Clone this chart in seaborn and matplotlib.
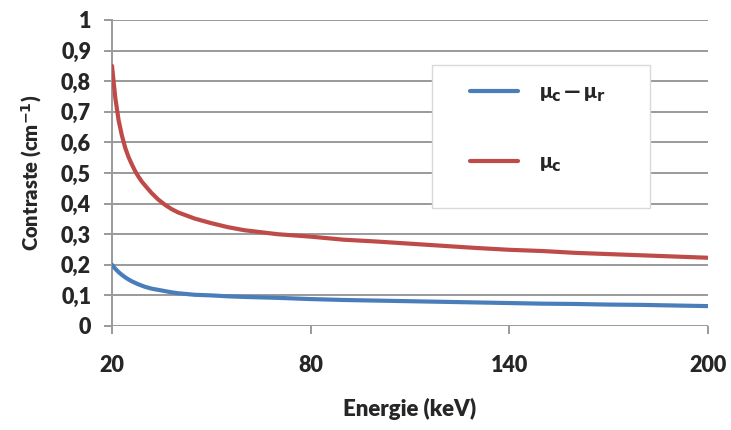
import numpy as np
import pandas as pd
import matplotlib
matplotlib.use("Agg")
import matplotlib.pyplot as plt
from matplotlib.patches import Rectangle
from matplotlib.ticker import FuncFormatter
import seaborn as sns

# ---- data ----
energie = [20, 21, 22, 23, 24, 25, 26, 27, 28, 29, 30, 32, 34, 36, 38, 40, 45,
           50, 55, 60, 70, 80, 90, 100, 110, 120, 130, 140, 150, 160, 170, 180,
           190, 200]
mu_c = [0.85, 0.745, 0.672, 0.622, 0.582, 0.552, 0.528, 0.506, 0.488, 0.472,
        0.459, 0.434, 0.413, 0.396, 0.382, 0.371, 0.351, 0.336, 0.323, 0.313,
        0.300, 0.292, 0.282, 0.276, 0.269, 0.262, 0.255, 0.249, 0.245, 0.239,
        0.235, 0.231, 0.227, 0.223]
mu_diff = [0.20, 0.187, 0.176, 0.167, 0.159, 0.152, 0.146, 0.141, 0.136, 0.132,
           0.128, 0.122, 0.118, 0.114, 0.110, 0.107, 0.102, 0.100, 0.097, 0.095,
           0.092, 0.088, 0.085, 0.083, 0.081, 0.079, 0.077, 0.075, 0.073, 0.072,
           0.070, 0.069, 0.067, 0.065]
x_ticks = [20, 80, 140, 200]
y_ticks = [0, 0.1, 0.2, 0.3, 0.4, 0.5, 0.6, 0.7, 0.8, 0.9, 1.0]

sns.set_theme(style="white")
plt.rcParams["font.family"] = ["Lato", "DejaVu Sans"]
plt.rcParams["mathtext.fontset"] = "custom"
plt.rcParams["mathtext.bf"] = "DejaVu Sans:bold"
plt.rcParams["mathtext.it"] = "DejaVu Sans:bold"
plt.rcParams["mathtext.rm"] = "DejaVu Sans:bold"

W = "heavy"

fig = plt.figure(figsize=(7.31, 4.30), dpi=100)
ax = fig.add_axes([112/731, 1 - 326/430, 596/731, 306/430])

df = pd.DataFrame({"E": energie, "diff": mu_diff, "c": mu_c})
blue = "#4a7ebb"
red = "#be4b48"
sns.lineplot(data=df, x="E", y="diff", ax=ax, color=blue, linewidth=3.0,
             label="\u03bc$_\\mathbf{c}$\u2009\u2014\u2009\u03bc$_\\mathbf{r}$", zorder=3)
sns.lineplot(data=df, x="E", y="c", ax=ax, color=red, linewidth=3.0,
             label="\u03bc$_\\mathbf{c}$", zorder=3)

ax.set_xlim(20, 200)
ax.set_ylim(0, 1.0)
ax.set_xticks(x_ticks)
ax.set_yticks(y_ticks)
ax.yaxis.set_major_formatter(FuncFormatter(lambda v, p: ("%g" % round(v, 1)).replace(".", ",")))

gc = "#9a9a9a"
for y in y_ticks:
    ax.axhline(y, color=gc, linewidth=1.4, zorder=1)
for s in ["top", "right", "bottom"]:
    ax.spines[s].set_visible(False)
ax.spines["left"].set_color(gc)
ax.spines["left"].set_linewidth(1.4)
ax.tick_params(axis="both", which="major", direction="out", length=6,
               width=1.4, color=gc, labelsize=15.5, left=True, bottom=True)
ax.tick_params(axis="y", pad=9)
ax.tick_params(axis="x", pad=15)
for t in ax.get_xticklabels() + ax.get_yticklabels():
    t.set_fontweight(W)

ax.set_xlabel("Energie (keV)", fontsize=16, fontweight=W, labelpad=16)
ax.set_ylabel("Contraste (cm$^{\\mathbf{-1}}$)", fontsize=14.5, fontweight=W, labelpad=12)

# legend box
x0 = (432 - 112) / 596
y0 = (326 - 208) / 306
w = (650 - 432) / 596
h = (208 - 65) / 306
ax.add_patch(Rectangle((x0, y0), w, h, transform=ax.transAxes, facecolor="white",
                       edgecolor="#d9d9d9", linewidth=1.0, zorder=4))
leg = ax.legend(loc="upper left", bbox_to_anchor=((467 - 112) / 596 - 0.012, (326 - 72) / 306),
                frameon=False, fontsize=15, handlelength=2.3, handletextpad=1.0,
                labelspacing=2.3, borderpad=0.0)
leg.set_zorder(5)
for t in leg.get_texts():
    t.set_fontweight(W)
for l in leg.get_lines():
    l.set_linewidth(3.0)

fig.savefig("out.png", dpi=100)
